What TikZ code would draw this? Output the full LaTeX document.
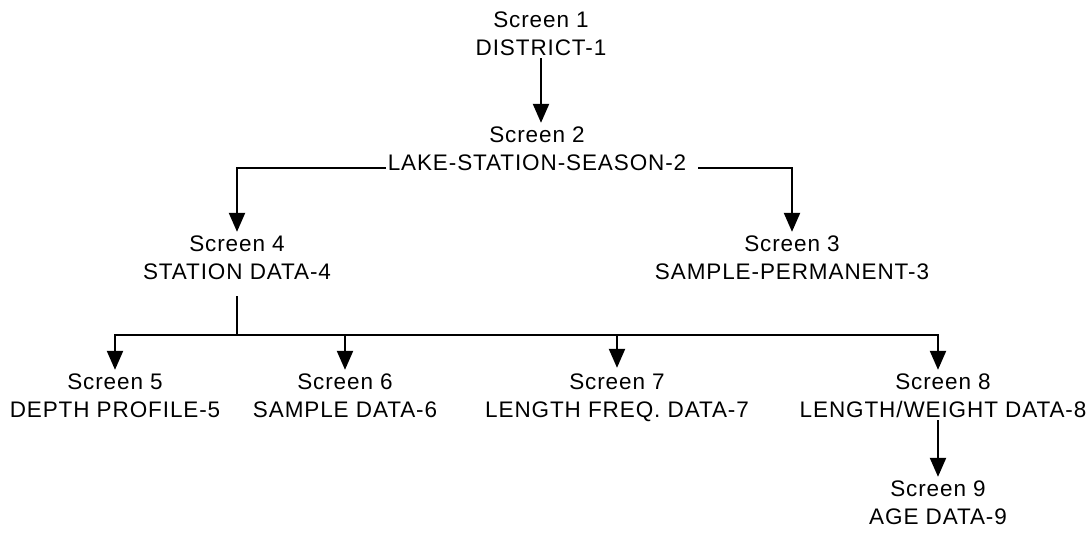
\documentclass[tikz,border=0pt]{standalone}
\usepackage{fontspec}
\setmainfont{Liberation Sans}[LetterSpace=4]
\usetikzlibrary{arrows.meta}
\begin{document}
\begin{tikzpicture}[x=1pt,y=-1pt,
  lbl/.style={align=center,inner sep=2pt,font=\fontsize{22.5}{28}\selectfont},
  conn/.style={line width=2.2pt},
  arr/.style={conn,-{Triangle[length=19pt,width=16pt]}}]
\useasboundingbox (0,0) rectangle (1087,533);
\node[lbl] (n1) at (541,34) {Screen 1\\DISTRICT-1};
\node[lbl] (n2) at (537,149) {Screen 2\\LAKE-STATION-SEASON-2};
\node[lbl] (n4) at (237,258) {Screen 4\\STATION DATA-4};
\node[lbl] (n3) at (792,258) {Screen 3\\SAMPLE-PERMANENT-3};
\node[lbl] (n5) at (115,396) {Screen 5\\DEPTH PROFILE-5};
\node[lbl] (n6) at (345,396) {Screen 6\\SAMPLE DATA-6};
\node[lbl] (n7) at (617,398) {Screen 7\\LENGTH FREQ. DATA-7};
\node[lbl] (n8) at (943,396) {Screen 8\\LENGTH/WEIGHT DATA-8};
\node[lbl] (n9) at (938,503) {Screen 9\\AGE DATA-9};
\coordinate (bus) at (237,335);
\draw[arr] (n1.south) -- ([yshift=2pt]n1.south |- n2.north);
\draw[arr] ([yshift=-19pt]n2.west) -| ([yshift=2pt]n4.north);
\draw[arr] ([xshift=10pt,yshift=-19pt]n2.east) -| ([yshift=2pt]n3.north);
\draw[conn] ([yshift=-14pt]n4.south) -- (bus);
\draw[arr] (bus) -| ([yshift=2pt]n5.north);
\draw[arr] (bus) -| ([yshift=2pt]n6.north);
\draw[arr] (bus) -| ([yshift=4pt]n7.north);
\draw[arr] (bus) -| ([xshift=-5pt,yshift=2pt]n8.north);
\draw[arr] ([xshift=-5pt]n8.south) -- ([yshift=2pt]n9.north);
\end{tikzpicture}
\end{document}
